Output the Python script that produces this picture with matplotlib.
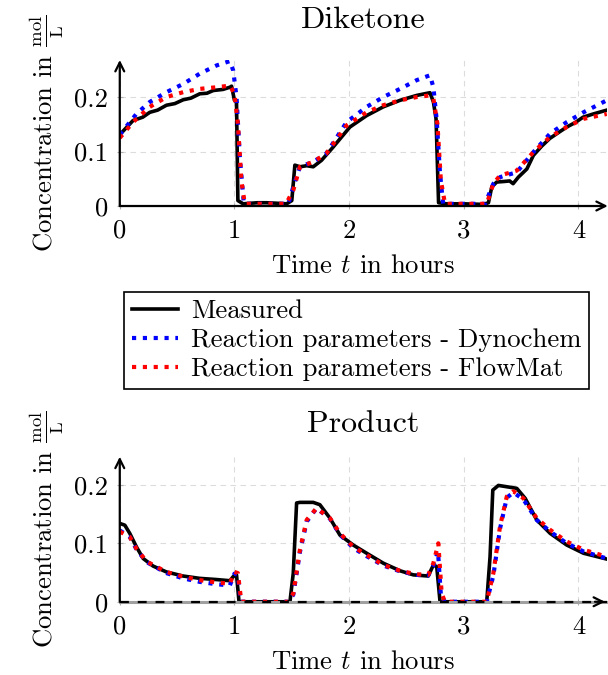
import matplotlib
matplotlib.use("Agg")
import matplotlib.pyplot as plt

plt.rcParams['font.family'] = 'serif'
plt.rcParams['font.serif'] = ['cmr10', 'DejaVu Serif']
plt.rcParams['mathtext.fontset'] = 'cm'
plt.rcParams['axes.formatter.use_mathtext'] = True
plt.rcParams['font.size'] = 19.2

# ---- data: Diketone ----
dik_meas_t = [0, 0.116, 0.2, 0.262, 0.33, 0.407, 0.48, 0.553, 0.62, 0.698, 0.76, 0.815, 0.9, 0.96, 0.975,
              1.0, 1.018, 1.03, 1.076, 1.2, 1.28, 1.38, 1.455, 1.5, 1.527, 1.571, 1.63, 1.687, 1.76, 1.86,
              2.007, 2.153, 2.298, 2.444, 2.589, 2.705, 2.735, 2.758, 2.78, 2.85, 3.0, 3.17, 3.215, 3.244,
              3.287, 3.35, 3.40, 3.43, 3.476, 3.55, 3.607, 3.68, 3.75, 3.82, 3.898, 3.97, 4.04, 4.13, 4.247]
dik_meas_c = [0.131, 0.157, 0.163, 0.172, 0.176, 0.185, 0.188, 0.195, 0.198, 0.206, 0.207, 0.212, 0.214, 0.218, 0.220,
              0.194, 0.191, 0.010, 0.004, 0.006, 0.006, 0.005, 0.004, 0.010, 0.075, 0.072, 0.074, 0.072, 0.084, 0.108,
              0.145, 0.166, 0.182, 0.194, 0.203, 0.208, 0.191, 0.160, 0.006, 0.004, 0.004, 0.003, 0.006, 0.035,
              0.044, 0.045, 0.046, 0.041, 0.053, 0.068, 0.093, 0.110, 0.124, 0.134, 0.145, 0.153, 0.163, 0.169, 0.176]

dik_dyno_t = [0, 0.145, 0.262, 0.407, 0.553, 0.698, 0.844, 0.96, 0.989, 1.018, 1.047, 1.082, 1.47,
              1.513, 1.571, 1.687, 1.80, 1.978, 2.153, 2.298, 2.444, 2.589, 2.705, 2.735, 2.764, 2.793,
              2.82, 3.185, 3.258, 3.316, 3.462, 3.607, 3.753, 3.898, 4.044, 4.247]
dik_dyno_c = [0.131, 0.169, 0.191, 0.209, 0.224, 0.243, 0.258, 0.266, 0.249, 0.200, 0.090, 0.004, 0.004,
              0.035, 0.072, 0.081, 0.096, 0.154, 0.182, 0.200, 0.215, 0.231, 0.240, 0.218, 0.157, 0.059,
              0.004, 0.004, 0.041, 0.053, 0.062, 0.099, 0.133, 0.154, 0.172, 0.194]

dik_flow_t = [0, 0.116, 0.262, 0.407, 0.553, 0.698, 0.844, 0.96, 1.0, 1.03, 1.06, 1.09, 1.45,
              1.513, 1.571, 1.687, 1.80, 1.978, 2.153, 2.298, 2.444, 2.589, 2.705, 2.735, 2.77, 2.80,
              2.836, 3.2, 3.258, 3.316, 3.462, 3.607, 3.753, 3.898, 4.044, 4.247]
dik_flow_c = [0.125, 0.154, 0.182, 0.200, 0.209, 0.215, 0.218, 0.221, 0.206, 0.151, 0.047, 0.004, 0.004,
              0.029, 0.072, 0.081, 0.096, 0.148, 0.172, 0.185, 0.194, 0.200, 0.203, 0.197, 0.151, 0.047,
              0.004, 0.004, 0.041, 0.056, 0.065, 0.099, 0.127, 0.145, 0.160, 0.169]

# ---- data: Product ----
prod_meas_t = [0, 0.044, 0.087, 0.145, 0.204, 0.291, 0.407, 0.553, 0.698, 0.844, 0.96, 0.989, 1.018, 1.04,
               1.484, 1.513, 1.542, 1.571, 1.687, 1.745, 1.833, 1.92, 2.036, 2.153, 2.298, 2.444, 2.56, 2.69,
               2.735, 2.764, 2.793, 3.2, 3.229, 3.253, 3.302, 3.462, 3.535, 3.636, 3.753, 3.898, 4.044, 4.247]
prod_meas_c = [0.134, 0.131, 0.117, 0.094, 0.074, 0.061, 0.051, 0.044, 0.040, 0.038, 0.036, 0.043, 0.046, 0.0,
               0.0, 0.049, 0.169, 0.170, 0.170, 0.166, 0.143, 0.114, 0.097, 0.083, 0.066, 0.053, 0.046, 0.044,
               0.063, 0.060, 0.0, 0.0, 0.077, 0.191, 0.199, 0.194, 0.177, 0.140, 0.117, 0.097, 0.083, 0.073]

prod_dyno_t = [0, 0.087, 0.145, 0.233, 0.407, 0.553, 0.698, 0.844, 0.96, 1.0, 1.03, 1.055, 1.47, 1.513,
               1.571, 1.63, 1.716, 1.833, 1.92, 2.036, 2.153, 2.298, 2.444, 2.589, 2.69, 2.735, 2.775, 2.80,
               2.83, 3.2, 3.258, 3.316, 3.375, 3.433, 3.52, 3.636, 3.753, 3.898, 4.044, 4.247]
prod_dyno_c = [0.122, 0.111, 0.090, 0.068, 0.049, 0.040, 0.034, 0.030, 0.028, 0.048, 0.046, 0.0, 0.0, 0.012,
               0.085, 0.137, 0.160, 0.142, 0.115, 0.092, 0.078, 0.062, 0.052, 0.046, 0.045, 0.062, 0.086, 0.012,
               0.0, 0.0, 0.045, 0.125, 0.178, 0.187, 0.175, 0.140, 0.120, 0.100, 0.086, 0.074]

prod_flow_t = [0, 0.087, 0.145, 0.233, 0.407, 0.553, 0.698, 0.844, 0.96, 1.0, 1.03, 1.06, 1.47, 1.513,
               1.571, 1.63, 1.716, 1.833, 1.92, 2.036, 2.153, 2.298, 2.444, 2.589, 2.69, 2.735, 2.778, 2.807,
               2.836, 3.2, 3.258, 3.316, 3.375, 3.433, 3.52, 3.636, 3.753, 3.898, 4.044, 4.247]
prod_flow_c = [0.120, 0.111, 0.091, 0.069, 0.051, 0.043, 0.037, 0.033, 0.031, 0.051, 0.049, 0.0, 0.0, 0.014,
               0.089, 0.140, 0.160, 0.143, 0.117, 0.094, 0.080, 0.063, 0.053, 0.047, 0.046, 0.066, 0.100, 0.014,
               0.0, 0.0, 0.049, 0.129, 0.180, 0.189, 0.177, 0.143, 0.123, 0.103, 0.089, 0.077]

x_ticks = [0, 1, 2, 3, 4]
x_labels = ['0', '1', '2', '3', '4']
y_ticks = [0, 0.1, 0.2]
y_labels = ['0', '0.1', '0.2']

labels = ['Measured', 'Reaction parameters - Dynochem', 'Reaction parameters - FlowMat']
ylab = r'Concentration in $\frac{\mathrm{mol}}{\mathrm{L}}$'

fig = plt.figure(figsize=(6.08, 6.75), dpi=100)
ax1 = fig.add_axes([0.197, 0.6948, 0.801, 0.2163])
ax2 = fig.add_axes([0.197, 0.1085, 0.801, 0.2148])


def style(ax, ytop, title, tpad, zero_dashed=False):
    ax.set_xlim(0, 4.247)
    ax.set_ylim(0, ytop)
    for s in ax.spines.values():
        s.set_visible(False)
    ax.set_xticks(x_ticks, labels=x_labels)
    ax.set_yticks(y_ticks, labels=y_labels)
    ax.tick_params(direction='inout', length=5, width=0.8, color='#b0b0b0', pad=6)
    ax.tick_params(axis='x', pad=7)
    ax.grid(True, color='#dcdcdc', ls=(0, (5, 4)), lw=0.8)
    ax.set_axisbelow(True)
    ax.set_title(title, pad=tpad)
    ax.set_xlabel(r'Time $t$ in hours', labelpad=8)
    ax.set_ylabel(ylab, labelpad=6)
    if zero_dashed:
        ax.plot([0, 1], [0, 0], transform=ax.transAxes, color='#a0a0a0', lw=2.2, zorder=4, clip_on=False)
        ax.plot([0, 1], [0, 0], transform=ax.transAxes, color='k', lw=1.6, ls=(0, (4, 4)), zorder=4.5, clip_on=False)
        ax.annotate('', xy=(1.002, 0), xytext=(0.97, 0), xycoords='axes fraction',
                    arrowprops=dict(arrowstyle='->', lw=1.6, color='k', mutation_scale=16), zorder=5)
    else:
        ax.annotate('', xy=(1.002, 0), xytext=(0, 0), xycoords='axes fraction',
                    arrowprops=dict(arrowstyle='->', lw=1.6, color='k', mutation_scale=16,
                                    shrinkA=0, shrinkB=0), zorder=5)
    ax.annotate('', xy=(0, 1.0), xytext=(0, 0), xycoords='axes fraction',
                arrowprops=dict(arrowstyle='->', lw=1.6, color='k', mutation_scale=16,
                                shrinkA=0, shrinkB=0), zorder=5)


dot = (0, (1, 1.6))
ax1.plot(dik_meas_t, dik_meas_c, color='k', lw=2.6, zorder=3, label=labels[0])
ax1.plot(dik_dyno_t, dik_dyno_c, color='#0000ff', lw=3.0, ls=dot, zorder=3.2, label=labels[1])
ax1.plot(dik_flow_t, dik_flow_c, color='#ff0000', lw=3.0, ls=dot, zorder=3.4, label=labels[2])
style(ax1, 0.268, 'Diketone', 23)

ax2.plot(prod_meas_t, prod_meas_c, color='k', lw=2.6, zorder=3)
ax2.plot(prod_dyno_t, prod_dyno_c, color='#0000ff', lw=3.0, ls=dot, zorder=3.2)
ax2.plot(prod_flow_t, prod_flow_c, color='#ff0000', lw=3.0, ls=dot, zorder=3.4)
style(ax2, 0.248, 'Product', 18, zero_dashed=True)

h, l = ax1.get_legend_handles_labels()
leg = fig.legend(h, l, loc='center', bbox_to_anchor=(0.587, 0.4956), frameon=True, fancybox=False,
                 edgecolor='k', framealpha=1, handlelength=1.7, handletextpad=0.5, labelspacing=0.2,
                 borderpad=0.3, borderaxespad=0, fontsize=19.2)
leg.get_frame().set_linewidth(1.2)

fig.savefig('out.png', dpi=100)
